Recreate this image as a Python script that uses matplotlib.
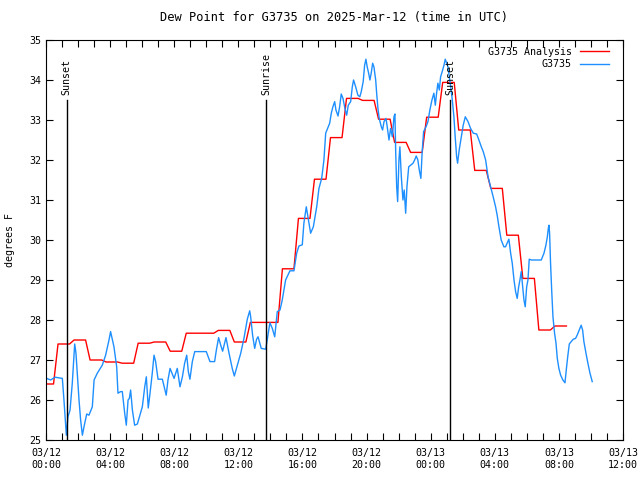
import numpy as np
import matplotlib
matplotlib.use("Agg")
import matplotlib.pyplot as plt

# hours since 03/12 00:00 UTC
obs_hours = [0.04, 0.29, 0.56, 1.02, 1.12, 1.23, 1.27, 1.37, 1.5, 1.64, 1.79, 1.87, 1.95, 2.06, 2.16, 2.27, 2.37,
             2.54, 2.68, 2.89, 3.0, 3.2, 3.51, 3.72, 3.93, 4.03, 4.24, 4.41, 4.49,
             4.66, 4.76, 4.91, 5.01, 5.12, 5.2, 5.28, 5.39, 5.53, 5.7, 5.86, 6.01, 6.16, 6.26, 6.38, 6.49, 6.63,
             6.74, 6.84, 6.99, 7.26, 7.5, 7.61, 7.74, 7.99, 8.19, 8.36, 8.51, 8.65, 8.78,
             8.88, 8.98, 9.13, 9.28, 10.0, 10.23, 10.52, 10.63, 10.77, 10.9, 11.02, 11.23, 11.42, 11.62, 11.75,
             11.94, 12.15, 12.35, 12.56, 12.71, 12.77, 12.89, 13.02, 13.14,
             13.23, 13.43, 13.71, 13.8, 13.97, 14.12, 14.27, 14.43, 14.6, 14.74, 14.95, 15.22, 15.47, 15.64, 15.78,
             15.99, 16.09, 16.24, 16.34, 16.51, 16.68, 16.89, 17.03, 17.2, 17.34,
             17.45, 17.55, 17.7, 17.8, 17.9, 18.01, 18.09, 18.22, 18.32, 18.42, 18.53, 18.65, 18.76, 18.86, 19.01,
             19.11, 19.19, 19.32, 19.46, 19.58, 19.67, 19.79, 19.88, 19.96, 20.04, 20.13, 20.21, 20.29, 20.38,
             20.46, 20.57, 20.63, 20.71, 20.79, 20.92, 21.0, 21.09, 21.21, 21.29, 21.4, 21.5, 21.61, 21.71, 21.77,
             21.82, 21.88, 21.94, 22.02, 22.08, 22.17, 22.27, 22.35, 22.44, 22.52, 22.63, 22.75, 22.9, 23.0, 23.1,
             23.2, 23.29, 23.39, 23.47, 23.56, 23.71, 23.83, 23.95, 24.08, 24.2, 24.29, 24.37, 24.45, 24.54, 24.62,
             24.72, 24.83, 24.91, 25.0, 25.08, 25.16, 25.25, 25.35, 25.45, 25.53, 25.62, 25.68, 25.78, 25.91,
             26.03, 26.16,
             26.33, 26.49, 26.66, 26.87, 27.01, 27.16, 27.28, 27.43, 27.58, 27.74, 27.9, 28.05, 28.15, 28.26, 28.4,
             28.57, 28.67, 28.77, 28.88, 28.99, 29.09, 29.2, 29.3, 29.4, 29.49, 29.57, 29.65, 29.74, 29.82, 29.9,
             29.99, 30.07, 30.15, 30.28,
             30.9, 31.07, 31.19, 31.28, 31.34, 31.38, 31.42, 31.48, 31.55, 31.63, 31.73, 31.82, 31.9, 32.0, 32.11,
             32.25, 32.38, 32.46, 32.55, 32.65, 32.77, 32.9, 33.04, 33.14, 33.27, 33.39, 33.48, 33.56, 33.69,
             33.81, 33.94, 34.08]
obs_dewpt = [26.54, 26.5, 26.57, 26.54, 26.0, 25.33, 25.12, 25.58, 25.75, 26.42, 27.4, 27.17, 26.67, 26.0, 25.5,
             25.12, 25.33, 25.65, 25.62, 25.83, 26.5, 26.67, 26.87, 27.12, 27.5, 27.71, 27.33, 26.83, 26.17,
             26.21, 26.21, 25.67, 25.37, 26.0, 26.04, 26.25, 25.75, 25.37, 25.4, 25.62, 25.83, 26.33, 26.58, 25.8,
             26.17, 26.67, 27.12, 26.96, 26.52, 26.52, 26.12, 26.5, 26.79, 26.54, 26.79, 26.33, 26.58, 26.92, 27.12,
             26.71, 26.52, 26.96, 27.21, 27.21, 26.96, 26.96, 27.25, 27.56, 27.37, 27.22, 27.56, 27.17, 26.79, 26.6,
             26.87, 27.17, 27.54, 28.02, 28.23, 28.08, 27.62, 27.29, 27.52,
             27.58, 27.29, 27.27, 27.5, 27.93, 27.79, 27.58, 28.21, 28.25, 28.5, 29.0, 29.23, 29.23, 29.67, 29.85,
             29.88, 30.42, 30.83, 30.58, 30.17, 30.33, 30.83, 31.29, 31.54, 32.0,
             32.67, 32.77, 32.92, 33.17, 33.33, 33.46, 33.25, 33.1, 33.33, 33.65, 33.54, 33.29, 33.12, 33.37, 33.46,
             33.83, 34.0, 33.83, 33.62, 33.58, 33.71, 33.96, 34.37, 34.52, 34.33, 34.17, 34.0, 34.17, 34.42,
             34.33, 34.0, 33.67, 33.29, 33.04, 32.83, 32.75, 32.96, 33.04, 32.83, 32.5, 32.79, 32.58, 33.08, 33.15,
             32.17, 31.33, 30.96, 32.0, 32.33, 31.58, 31.0, 31.25, 30.67, 31.33, 31.83, 31.87, 31.92, 32.0, 32.1,
             32.0, 31.75, 31.54, 32.21, 32.71, 32.83, 32.96, 33.25, 33.5, 33.67, 33.37, 33.67, 33.92, 33.75, 34.08,
             34.21, 34.37, 34.52, 34.42, 34.33, 34.08, 33.83, 33.5, 33.08, 32.58, 32.08, 31.92, 32.25, 32.58,
             32.87, 33.08,
             32.96, 32.79, 32.67, 32.65, 32.5, 32.33, 32.21, 32.0, 31.58, 31.33, 31.08, 30.83, 30.62, 30.33, 30.0,
             29.83, 29.83, 29.92, 30.02, 29.67, 29.42, 29.0, 28.71, 28.54, 28.83, 29.0, 29.21, 28.83, 28.5, 28.33,
             28.83, 29.0, 29.52, 29.5,
             29.5, 29.67, 29.87, 30.08, 30.29, 30.37, 30.17, 29.42, 28.75, 28.08, 27.67, 27.42, 27.04, 26.79, 26.62,
             26.5, 26.43, 26.75, 27.08, 27.4, 27.46, 27.52, 27.54, 27.62, 27.75, 27.87, 27.75, 27.46, 27.17,
             26.92, 26.67, 26.46]

# hourly analysis values, hour 0 .. 32
anl_dewpt = [26.4, 27.4, 27.5, 27.0, 26.95, 26.92, 27.42, 27.45, 27.22, 27.67, 27.67, 27.74, 27.45,
             27.94, 27.94, 29.28, 30.54, 31.52, 32.56, 33.54, 33.49, 33.02, 32.44, 32.19, 33.07, 33.94,
             32.75, 31.74, 31.29, 30.12, 29.04, 27.75, 27.85]

sun_hours = [1.29, 13.73, 25.22]
sun_labels = ["Sunset", "Sunrise", "Sunset"]

tick_hours = list(range(0, 37, 4))
tick_labels = ["03/12\n00:00", "03/12\n04:00", "03/12\n08:00", "03/12\n12:00", "03/12\n16:00",
               "03/12\n20:00", "03/13\n00:00", "03/13\n04:00", "03/13\n08:00", "03/13\n12:00"]

plt.rcParams["font.family"] = "DejaVu Sans Mono"
plt.rcParams["font.size"] = 7.2

# analysis: each hourly value held from hh-0:15 to hh+0:28
anl_x, anl_y = [], []
for h, v in enumerate(anl_dewpt):
    anl_x += [max(h - 0.25, 0.0), h + 0.47]
    anl_y += [v, v]

fig = plt.figure(figsize=(6.4, 4.8), dpi=100)
ax = fig.add_axes([46 / 640, 40 / 480, 577 / 640, 400 / 480])

ax.plot(anl_x, anl_y, color="#ff0000", lw=1.0, label="G3735 Analysis")
ax.plot(obs_hours, obs_dewpt, color="#1e8fff", lw=1.0, label="G3735")

for h, name in zip(sun_hours, sun_labels):
    ax.plot([h, h], [25, 33.5], color="black", lw=1.0)
    ax.text(h, 33.62, name, rotation=90, ha="center", va="bottom")

ax.set_xlim(0, 36)
ax.set_ylim(25, 35)
ax.set_xticks(tick_hours)
ax.set_xticklabels(tick_labels)
ax.set_xticks(range(0, 37), minor=True)
ax.set_yticks(range(25, 36))
ax.tick_params(which="both", direction="in", top=True, right=True, length=5, width=0.8)
ax.tick_params(axis="x", pad=6)

ax.set_title("Dew Point for G3735 on 2025-Mar-12 (time in UTC)", pad=14)
ax.set_ylabel("degrees F", labelpad=10)

ax.legend(loc="upper right", bbox_to_anchor=(1 - 7 / 577, 1.0), frameon=False, markerfirst=False,
          handlelength=2.9, borderaxespad=0.3, labelspacing=0.25, handletextpad=0.8)

fig.savefig("out.png", dpi=100)
